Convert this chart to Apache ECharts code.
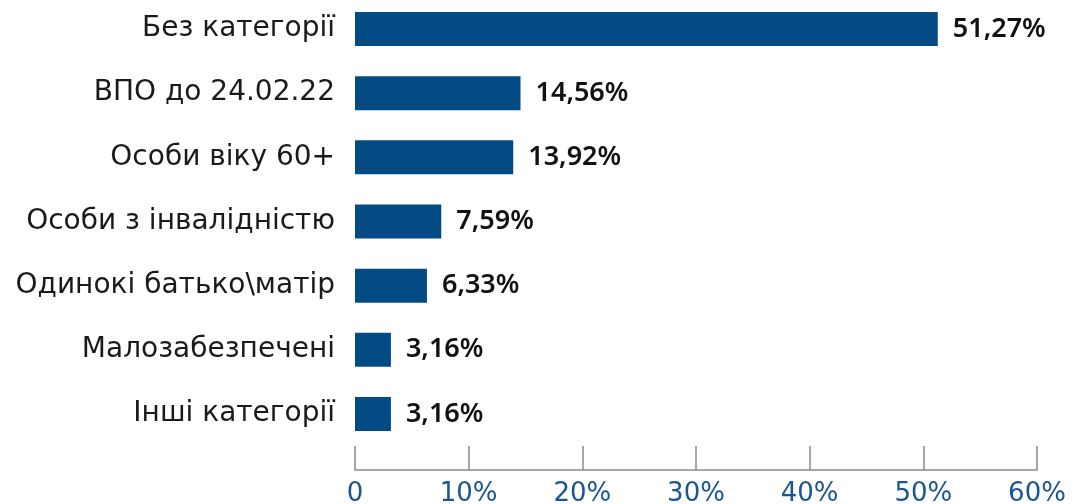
<!DOCTYPE html>
<html><head><meta charset="utf-8">
<script src="https://cdn.jsdelivr.net/npm/echarts@6/dist/echarts.min.js"></script>
<style>html,body{margin:0;padding:0;background:#fff}#c{width:1080px;height:504px}</style>
</head><body><div id="c"></div>
<script>
const categories = ["Без категорії","ВПО до 24.02.22","Особи віку 60+","Особи з інвалідністю","Одинокі батько\\матір","Малозабезпечені","Інші категорії"];
const values = [51.27, 14.56, 13.92, 7.59, 6.33, 3.16, 3.16];
const tickValues = [0,10,20,30,40,50,60];

const chart = echarts.init(document.getElementById('c'));
chart.setOption({
  animation:false,
  grid:{left:355, right:43, top:-3, height:449, outerBoundsMode:'none', containLabel:false},
  xAxis:{type:'value', min:0, max:60, interval:10, offset:24,
    axisLine:{show:true, lineStyle:{color:'#8c8c8c', width:1.5}},
    axisTick:{show:true, inside:true, length:24, lineStyle:{color:'#8c8c8c', width:1.5}},
    splitLine:{show:false},
    axisLabel:{margin:11, color:'#1b5592', fontSize:26, fontFamily:'DejaVu Sans',
      formatter:v=> v===0 ? '0' : v+'%'}
  },
  yAxis:{type:'category', inverse:true, data:categories,
    axisLine:{show:false}, axisTick:{show:false},
    axisLabel:{margin:20, color:'#1a1a1a', fontSize:28, fontFamily:'DejaVu Sans'}
  },
  series:[{type:'bar', data:values, barWidth:34,
    itemStyle:{color:'#034b85'},
    label:{show:true, position:'right', distance:15, color:'#111', fontSize:27, fontWeight:600, fontFamily:'Noto Sans',
      formatter:p=>p.value.toFixed(2).replace('.',',')+'%'}
  }]
});
</script></body></html>
